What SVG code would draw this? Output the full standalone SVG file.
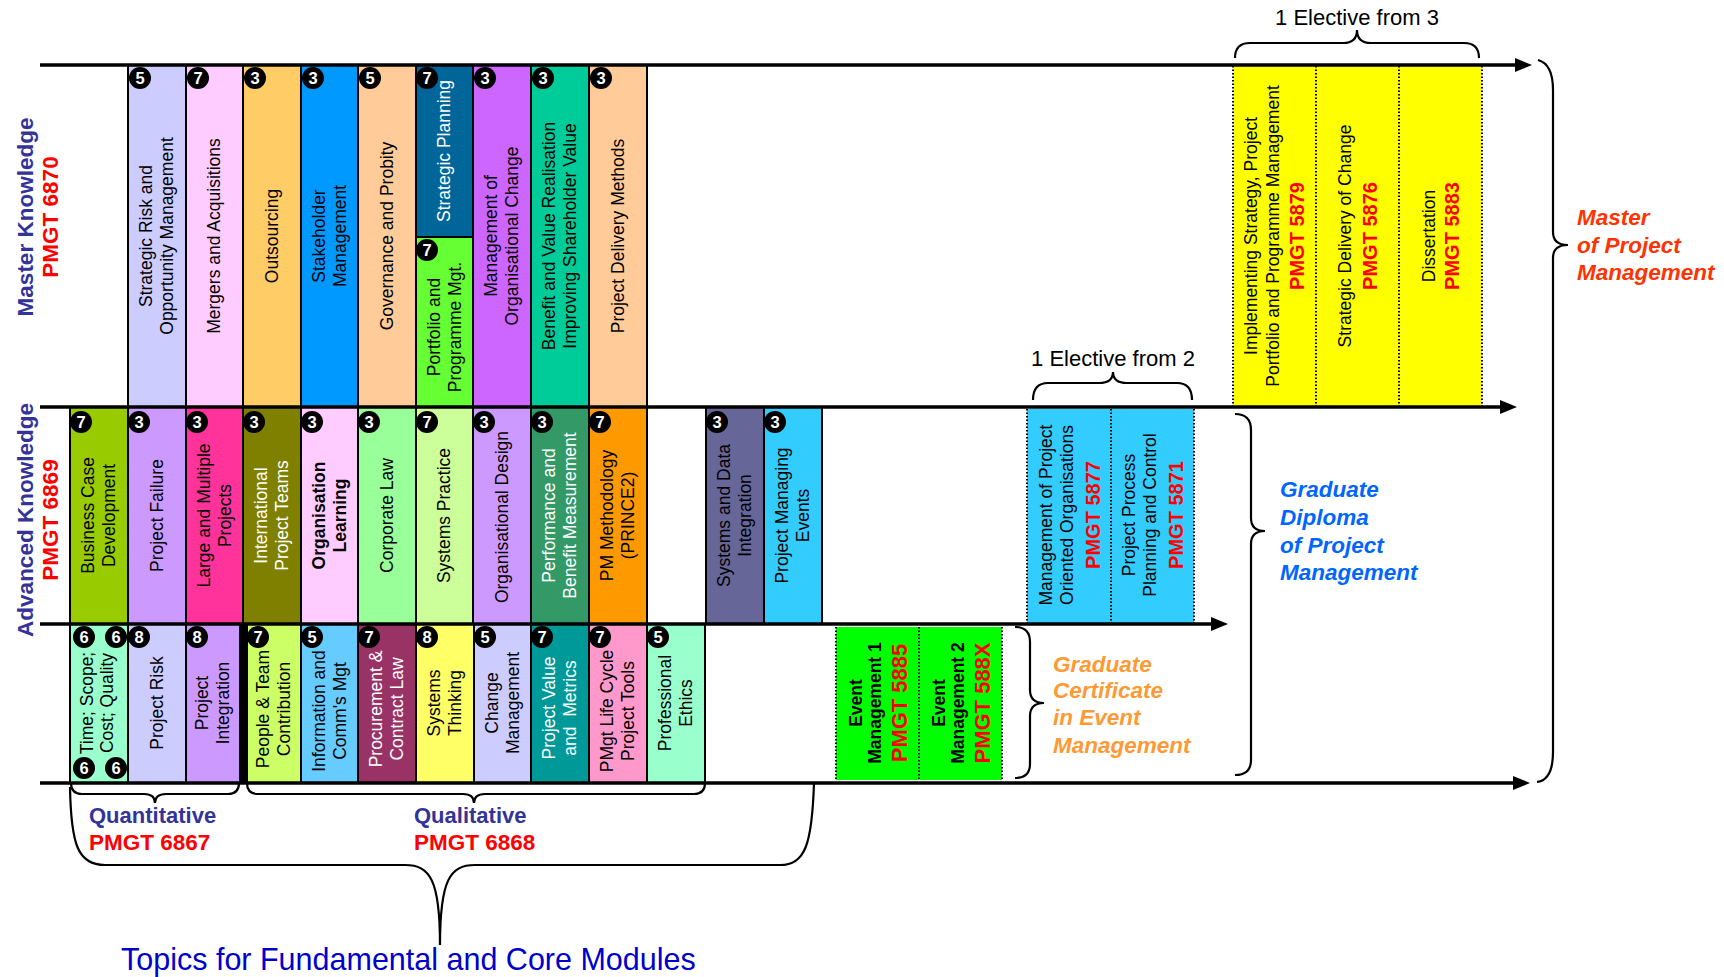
<svg xmlns="http://www.w3.org/2000/svg" width="1724" height="977" viewBox="0 0 1724 977">
<style>
text{font-family:"Liberation Sans",Arial,sans-serif}
.box{stroke:#000;stroke-width:2}
.dot{stroke:#000;stroke-width:2;stroke-dasharray:1.5 2;fill:none}
.bn{font-weight:bold;font-size:16.5px;fill:#fff;text-anchor:middle}
.t{font-size:17.5px;text-anchor:middle;fill:#000}
.w{fill:#fff}
.b{font-weight:bold}
.code{font-weight:bold;fill:#FF0000;font-size:20px}
.code2{font-weight:bold;fill:#FF0000;font-size:22px}
.axis{stroke:#000;stroke-width:3.5;fill:none}
.brace{fill:none;stroke:#000;stroke-width:2.2}
.lab{font-weight:bold;font-style:italic;font-size:22.5px}
.side{font-weight:bold;font-size:22.5px;text-anchor:middle}
.bl{fill:#333399}
.rd{fill:#FF0000}
.el{font-size:22px;text-anchor:middle;fill:#000}
</style>
<defs>
<marker id="ah" markerUnits="userSpaceOnUse" markerWidth="18" markerHeight="16" refX="5" refY="7" orient="auto">
<path d="M0,0 L17,7 L0,14 z" fill="#000"/>
</marker>
</defs>
<rect width="1724" height="977" fill="#fff"/>

<!-- Row 1 : Master Knowledge -->
<g id="n-strategic-risk"><rect class="box" x="128" y="65" width="58" height="342" fill="#CCCCFF"/><circle cx="140" cy="78" r="11"/><text class="bn" x="140" y="84">5</text><text class="t" transform="translate(157,236) rotate(-90)"><tspan x="0" y="-5">Strategic Risk and</tspan><tspan x="0" y="16">Opportunity Management</tspan></text></g>
<g id="n-mergers"><rect class="box" x="186" y="65" width="57" height="342" fill="#FFCCFF"/><circle cx="198" cy="78" r="11"/><text class="bn" x="198" y="84">7</text><text class="t" transform="translate(214.5,236) rotate(-90)"><tspan x="0" y="5.5">Mergers and Acquisitions</tspan></text></g>
<g id="n-outsourcing"><rect class="box" x="243" y="65" width="58" height="342" fill="#FFCC66"/><circle cx="255" cy="78" r="11"/><text class="bn" x="255" y="84">3</text><text class="t" transform="translate(272,236) rotate(-90)"><tspan x="0" y="5.5">Outsourcing</tspan></text></g>
<g id="n-stakeholder"><rect class="box" x="301" y="65" width="57" height="342" fill="#0099FF"/><circle cx="313" cy="78" r="11"/><text class="bn" x="313" y="84">3</text><text class="t" transform="translate(329.5,236) rotate(-90)"><tspan x="0" y="-5">Stakeholder</tspan><tspan x="0" y="16">Management</tspan></text></g>
<g id="n-governance"><rect class="box" x="358" y="65" width="58" height="342" fill="#FFCC99"/><circle cx="370" cy="78" r="11"/><text class="bn" x="370" y="84">5</text><text class="t" transform="translate(387,236) rotate(-90)"><tspan x="0" y="5.5">Governance and Probity</tspan></text></g>
<g id="n-strategic-planning"><rect class="box" x="416" y="65" width="57" height="172" fill="#006699"/><circle cx="427" cy="78" r="11"/><text class="bn" x="427" y="84">7</text><text class="t w" transform="translate(444.5,151) rotate(-90)"><tspan x="0" y="5.5">Strategic Planning</tspan></text></g>
<g id="n-portfolio"><rect class="box" x="416" y="237" width="57" height="170" fill="#66FF33"/><circle cx="427" cy="250" r="11"/><text class="bn" x="427" y="256">7</text><text class="t" transform="translate(444.5,327) rotate(-90)"><tspan x="0" y="-5">Portfolio and</tspan><tspan x="0" y="16">Programme Mgt.</tspan></text></g>
<g id="n-org-change"><rect class="box" x="473" y="65" width="58" height="342" fill="#CC66FF"/><circle cx="485" cy="78" r="11"/><text class="bn" x="485" y="84">3</text><text class="t" transform="translate(502,236) rotate(-90)"><tspan x="0" y="-5">Management of</tspan><tspan x="0" y="16">Organisational Change</tspan></text></g>
<g id="n-benefit-value"><rect class="box" x="531" y="65" width="58" height="342" fill="#00CC99"/><circle cx="543" cy="78" r="11"/><text class="bn" x="543" y="84">3</text><text class="t" transform="translate(560,236) rotate(-90)"><tspan x="0" y="-5">Benefit and Value Realisation</tspan><tspan x="0" y="16">Improving Shareholder Value</tspan></text></g>
<g id="n-delivery-methods"><rect class="box" x="589" y="65" width="58" height="342" fill="#FFCC99"/><circle cx="601" cy="78" r="11"/><text class="bn" x="601" y="84">3</text><text class="t" transform="translate(618,236) rotate(-90)"><tspan x="0" y="5.5">Project Delivery Methods</tspan></text></g>

<!-- Row 2 : Advanced Knowledge -->
<g id="n-business-case"><rect class="box" x="70" y="407" width="58" height="217" fill="#99CC00"/><circle cx="81" cy="422" r="11"/><text class="bn" x="81" y="428">7</text><text class="t" transform="translate(99,515.5) rotate(-90)"><tspan x="0" y="-5">Business Case</tspan><tspan x="0" y="16">Development</tspan></text></g>
<g id="n-project-failure"><rect class="box" x="128" y="407" width="58" height="217" fill="#CC99FF"/><circle cx="139" cy="422" r="11"/><text class="bn" x="139" y="428">3</text><text class="t" transform="translate(157,515.5) rotate(-90)"><tspan x="0" y="5.5">Project Failure</tspan></text></g>
<g id="n-large-multiple"><rect class="box" x="186" y="407" width="57" height="217" fill="#FF3399"/><circle cx="197" cy="422" r="11"/><text class="bn" x="197" y="428">3</text><text class="t" transform="translate(214.5,515.5) rotate(-90)"><tspan x="0" y="-5">Large and Multiple</tspan><tspan x="0" y="16">Projects</tspan></text></g>
<g id="n-international"><rect class="box" x="243" y="407" width="58" height="217" fill="#808000"/><circle cx="254" cy="422" r="11"/><text class="bn" x="254" y="428">3</text><text class="t w" transform="translate(272,515.5) rotate(-90)"><tspan x="0" y="-5">International</tspan><tspan x="0" y="16">Project Teams</tspan></text></g>
<g id="n-org-learning"><rect class="box" x="301" y="407" width="57" height="217" fill="#FFCCFF"/><circle cx="312" cy="422" r="11"/><text class="bn" x="312" y="428">3</text><text class="t b" transform="translate(329.5,515.5) rotate(-90)"><tspan x="0" y="-5">Organisation</tspan><tspan x="0" y="16">Learning</tspan></text></g>
<g id="n-corporate-law"><rect class="box" x="358" y="407" width="58" height="217" fill="#99FF99"/><circle cx="369" cy="422" r="11"/><text class="bn" x="369" y="428">3</text><text class="t" transform="translate(387,515.5) rotate(-90)"><tspan x="0" y="5.5">Corporate Law</tspan></text></g>
<g id="n-systems-practice"><rect class="box" x="416" y="407" width="57" height="217" fill="#CCFF99"/><circle cx="427" cy="422" r="11"/><text class="bn" x="427" y="428">7</text><text class="t" transform="translate(444.5,515.5) rotate(-90)"><tspan x="0" y="5.5">Systems Practice</tspan></text></g>
<g id="n-org-design"><rect class="box" x="473" y="407" width="58" height="217" fill="#CC99FF"/><circle cx="484" cy="422" r="11"/><text class="bn" x="484" y="428">3</text><text class="t" transform="translate(502,517) rotate(-90)"><tspan x="0" y="5.5">Organisational Design</tspan></text></g>
<g id="n-performance"><rect class="box" x="531" y="407" width="58" height="217" fill="#339966"/><circle cx="542" cy="422" r="11"/><text class="bn" x="542" y="428">3</text><text class="t w" transform="translate(560,515.5) rotate(-90)"><tspan x="0" y="-5">Performance and</tspan><tspan x="0" y="16">Benefit Measurement</tspan></text></g>
<g id="n-pm-methodology"><rect class="box" x="589" y="407" width="58" height="217" fill="#FF9900"/><circle cx="600" cy="422" r="11"/><text class="bn" x="600" y="428">7</text><text class="t" transform="translate(618,515.5) rotate(-90)"><tspan x="0" y="-5">PM Methodology</tspan><tspan x="0" y="16">(PRINCE2)</tspan></text></g>
<g id="n-systems-data"><rect class="box" x="706" y="407" width="58" height="217" fill="#666699"/><circle cx="717" cy="422" r="11"/><text class="bn" x="717" y="428">3</text><text class="t" transform="translate(735,515.5) rotate(-90)"><tspan x="0" y="-5">Systems and Data</tspan><tspan x="0" y="16">Integration</tspan></text></g>
<g id="n-managing-events"><rect class="box" x="764" y="407" width="58" height="217" fill="#33CCFF"/><circle cx="775" cy="422" r="11"/><text class="bn" x="775" y="428">3</text><text class="t" transform="translate(793,515.5) rotate(-90)"><tspan x="0" y="-5">Project Managing</tspan><tspan x="0" y="16">Events</tspan></text></g>

<!-- Row 3 : Fundamental / Core -->
<g id="n-time-scope"><rect class="box" x="70" y="624" width="58" height="159" fill="#99FFCC"/><circle cx="84" cy="637" r="11"/><text class="bn" x="84" y="643">6</text><circle cx="116" cy="637" r="11"/><text class="bn" x="116" y="643">6</text><circle cx="84" cy="768" r="11"/><text class="bn" x="84" y="774">6</text><circle cx="116" cy="768" r="11"/><text class="bn" x="116" y="774">6</text><text class="t" transform="translate(99,703) rotate(-90)"><tspan x="0" y="-6">Time; Scope;</tspan><tspan x="0" y="14">Cost; Quality</tspan></text></g>
<g id="n-project-risk"><rect class="box" x="128" y="624" width="58" height="159" fill="#CCCCFF"/><circle cx="139" cy="637" r="11"/><text class="bn" x="139" y="643">8</text><text class="t" transform="translate(157,703) rotate(-90)"><tspan x="0" y="5.5">Project Risk</tspan></text></g>
<g id="n-project-integration"><rect class="box" x="186" y="624" width="54" height="159" fill="#CC99FF"/><circle cx="197" cy="637" r="11"/><text class="bn" x="197" y="643">8</text><text class="t" transform="translate(213,703) rotate(-90)"><tspan x="0" y="-5">Project</tspan><tspan x="0" y="16">Integration</tspan></text></g>
<rect x="240" y="624" width="7" height="159" fill="#000"/>
<g id="n-people-team"><rect class="box" x="247" y="624" width="54" height="159" fill="#CCFF66"/><circle cx="258" cy="637" r="11"/><text class="bn" x="258" y="643">7</text><text class="t" transform="translate(274,709) rotate(-90)"><tspan x="0" y="-5">People &amp; Team</tspan><tspan x="0" y="16">Contribution</tspan></text></g>
<g id="n-information"><rect class="box" x="301" y="624" width="57" height="159" fill="#66CCFF"/><circle cx="312" cy="637" r="11"/><text class="bn" x="312" y="643">5</text><text class="t" transform="translate(329.5,711) rotate(-90)"><tspan x="0" y="-5">Information and</tspan><tspan x="0" y="16">Comm's Mgt</tspan></text></g>
<g id="n-procurement"><rect class="box" x="358" y="624" width="58" height="159" fill="#993366"/><circle cx="369" cy="637" r="11"/><text class="bn" x="369" y="643">7</text><text class="t w" transform="translate(387,709) rotate(-90)"><tspan x="0" y="-5">Procurement &amp;</tspan><tspan x="0" y="16">Contract Law</tspan></text></g>
<g id="n-systems-thinking"><rect class="box" x="416" y="624" width="58" height="159" fill="#FFFF66"/><circle cx="427" cy="637" r="11"/><text class="bn" x="427" y="643">8</text><text class="t" transform="translate(445,703) rotate(-90)"><tspan x="0" y="-5">Systems</tspan><tspan x="0" y="16">Thinking</tspan></text></g>
<g id="n-change-mgmt"><rect class="box" x="474" y="624" width="57" height="159" fill="#CCCCFF"/><circle cx="485" cy="637" r="11"/><text class="bn" x="485" y="643">5</text><text class="t" transform="translate(502.5,703) rotate(-90)"><tspan x="0" y="-5">Change</tspan><tspan x="0" y="16">Management</tspan></text></g>
<g id="n-project-value"><rect class="box" x="531" y="624" width="58" height="159" fill="#009999"/><circle cx="542" cy="637" r="11"/><text class="bn" x="542" y="643">7</text><text class="t w" xml:space="preserve" transform="translate(560,708) rotate(-90)"><tspan x="0" y="-5">Project Value</tspan><tspan x="0" y="16">and  Metrics</tspan></text></g>
<g id="n-life-cycle"><rect class="box" x="589" y="624" width="58" height="159" fill="#FF99CC"/><circle cx="600" cy="637" r="11"/><text class="bn" x="600" y="643">7</text><text class="t" transform="translate(618,711) rotate(-90)"><tspan x="0" y="-5">PMgt Life Cycle</tspan><tspan x="0" y="16">Project Tools</tspan></text></g>
<g id="n-ethics"><rect class="box" x="647" y="624" width="58" height="159" fill="#99FFCC"/><circle cx="658" cy="637" r="11"/><text class="bn" x="658" y="643">5</text><text class="t" transform="translate(676,703) rotate(-90)"><tspan x="0" y="-5">Professional</tspan><tspan x="0" y="16">Ethics</tspan></text></g>

<!-- Graduate Certificate event units -->
<g id="n-event-1"><rect x="836" y="627" width="83" height="153" fill="#00FF00"/><line class="dot" x1="836" y1="627" x2="836" y2="780"/><text class="t b" transform="translate(877.5,703) rotate(-90)"><tspan x="0" y="-16">Event</tspan><tspan x="0" y="3">Management 1</tspan><tspan class="code2" x="0" y="29">PMGT 5885</tspan></text></g>
<g id="n-event-2"><rect x="919" y="627" width="83" height="153" fill="#00FF00"/><line class="dot" x1="919" y1="627" x2="919" y2="780"/><line class="dot" x1="1002" y1="627" x2="1002" y2="780"/><text class="t b" transform="translate(960.5,703) rotate(-90)"><tspan x="0" y="-16">Event</tspan><tspan x="0" y="3">Management 2</tspan><tspan class="code2" x="0" y="29">PMGT 588X</tspan></text></g>

<!-- Graduate Diploma electives -->
<g id="n-pmgt5877"><rect x="1027" y="409" width="84" height="214" fill="#33CCFF"/><line class="dot" x1="1027" y1="409" x2="1027" y2="623"/><text class="t" transform="translate(1069,515) rotate(-90)"><tspan x="0" y="-17.5">Management of Project</tspan><tspan x="0" y="4">Oriented Organisations</tspan><tspan class="code" x="0" y="31">PMGT 5877</tspan></text></g>
<g id="n-pmgt5871"><rect x="1111" y="409" width="83" height="214" fill="#33CCFF"/><line class="dot" x1="1111" y1="409" x2="1111" y2="623"/><line class="dot" x1="1194" y1="409" x2="1194" y2="623"/><text class="t" transform="translate(1152.5,515) rotate(-90)"><tspan x="0" y="-18">Project Process</tspan><tspan x="0" y="3">Planning and Control</tspan><tspan class="code" x="0" y="30">PMGT 5871</tspan></text></g>

<!-- Master electives -->
<g id="n-pmgt5879"><rect x="1233" y="66" width="83" height="341" fill="#FFFF00"/><line class="dot" x1="1233" y1="66" x2="1233" y2="406"/><text class="t" transform="translate(1274.5,236) rotate(-90)"><tspan x="0" y="-18">Implementing Strategy, Project</tspan><tspan x="0" y="4">Portfolio and Programme Management</tspan><tspan class="code" x="0" y="29">PMGT 5879</tspan></text></g>
<g id="n-pmgt5876"><rect x="1316" y="66" width="83" height="341" fill="#FFFF00"/><line class="dot" x1="1316" y1="66" x2="1316" y2="406"/><text class="t" transform="translate(1357.5,236) rotate(-90)"><tspan x="0" y="-7">Strategic Delivery of Change</tspan><tspan class="code" x="0" y="19.5">PMGT 5876</tspan></text></g>
<g id="n-pmgt5883"><rect x="1399" y="66" width="83" height="341" fill="#FFFF00"/><line class="dot" x1="1399" y1="66" x2="1399" y2="406"/><line class="dot" x1="1482" y1="66" x2="1482" y2="406"/><text class="t" transform="translate(1440.5,236) rotate(-90)"><tspan x="0" y="-6">Dissertation</tspan><tspan class="code" x="0" y="18">PMGT 5883</tspan></text></g>

<!-- Connectors: timeline arrows and braces -->
<g id="connectors">
<line class="axis" x1="40" y1="65" x2="1520" y2="65" marker-end="url(#ah)"/>
<line class="axis" x1="40" y1="407" x2="1505" y2="407" marker-end="url(#ah)"/>
<line class="axis" x1="40" y1="624" x2="1216" y2="624" marker-end="url(#ah)"/>
<line class="axis" x1="40" y1="783" x2="1518" y2="783" marker-end="url(#ah)"/>
<path class="brace" d="M1235,58 Q1235,43 1250,43 L1343,43 Q1357,43 1357,30 Q1357,43 1371,43 L1464,43 Q1479,43 1479,58"/>
<path class="brace" d="M1033,400 Q1033,383 1048,383 L1099,383 Q1113,383 1113,372 Q1113,383 1127,383 L1177,383 Q1192,383 1192,400"/>
<path class="brace" d="M1015,627 Q1030,627 1030,642 L1030,690 Q1030,703 1044,703 Q1030,703 1030,716 L1030,764 Q1030,778 1015,778"/>
<path class="brace" d="M1235,414 Q1251,414 1251,430 L1251,518 Q1251,531 1265,531 Q1251,531 1251,544 L1251,760 Q1251,775 1235,775"/>
<path class="brace" d="M1538,60 Q1553,64 1553,90 L1553,232 Q1553,245 1568,245 Q1553,245 1553,258 L1553,752 Q1553,780 1537,782"/>
<path class="brace" d="M71,783 Q71,794 82,794 L144,794 Q155,794 155,803 Q155,794 166,794 L228,794 Q239,794 239,783"/>
<path class="brace" d="M247,783 Q247,794 258,794 L463,794 Q474,794 474,803 Q474,794 485,794 L694,794 Q705,794 705,783"/>
<path class="brace" d="M70,787 C71,845 78,865 105,865 L405,865 C430,865 440,880 440,945 C440,880 450,865 475,865 L780,865 C805,865 812,845 814,783"/>
</g>

<!-- Labels -->
<g id="label-master-knowledge"><text class="side bl" transform="translate(33,217) rotate(-90)">Master Knowledge</text><text class="side rd" transform="translate(58,217) rotate(-90)">PMGT 6870</text></g>
<g id="label-advanced-knowledge"><text class="side bl" transform="translate(33,520) rotate(-90)">Advanced Knowledge</text><text class="side rd" transform="translate(58,520) rotate(-90)">PMGT 6869</text></g>
<g id="label-elective3"><text class="el" x="1357" y="25">1 Elective from 3</text></g>
<g id="label-elective2"><text class="el" x="1113" y="366">1 Elective from 2</text></g>
<g id="label-master"><text class="lab" fill="#FF3300"><tspan x="1577" y="225">Master</tspan><tspan x="1577" y="253">of Project</tspan><tspan x="1577" y="280">Management</tspan></text></g>
<g id="label-grad-diploma"><text class="lab" fill="#0066FF"><tspan x="1280" y="497">Graduate</tspan><tspan x="1280" y="525">Diploma</tspan><tspan x="1280" y="553">of Project</tspan><tspan x="1280" y="580">Management</tspan></text></g>
<g id="label-grad-cert"><text class="lab" fill="#FF9933"><tspan x="1053" y="672">Graduate</tspan><tspan x="1053" y="698">Certificate</tspan><tspan x="1053" y="725">in Event</tspan><tspan x="1053" y="753">Management</tspan></text></g>
<g id="label-quantitative"><text font-weight="bold" font-size="22px" fill="#333399" x="89" y="823">Quantitative</text><text font-weight="bold" font-size="22.5px" fill="#FF0000" x="89" y="850">PMGT 6867</text></g>
<g id="label-qualitative"><text font-weight="bold" font-size="22px" fill="#333399" x="414" y="823">Qualitative</text><text font-weight="bold" font-size="22.5px" fill="#FF0000" x="414" y="850">PMGT 6868</text></g>
<g id="label-topics"><text font-size="30.5px" fill="#0000CC" x="121" y="970">Topics for Fundamental and Core Modules</text></g>
</svg>
